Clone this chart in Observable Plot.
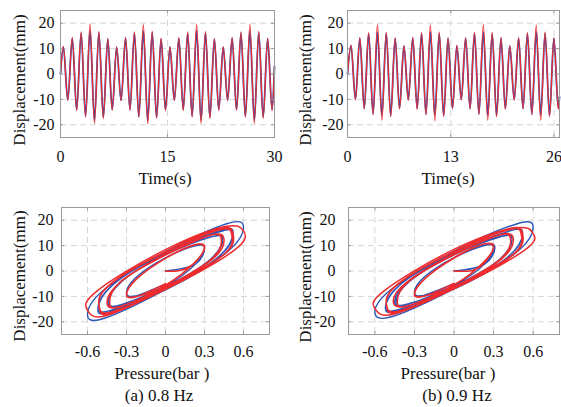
<!DOCTYPE html>
<html><head><meta charset="utf-8">
<script src="https://cdn.jsdelivr.net/npm/d3@7"></script>
<script src="https://cdn.jsdelivr.net/npm/@observablehq/plot@0.6"></script>
<style>
body{margin:0;background:#fff;}
#root{position:relative;width:561px;height:407px;background:#fff;font-family:"Liberation Serif","Times New Roman",serif;overflow:hidden;color:#111}
#root svg, #root svg text{font-family:"Liberation Serif","Times New Roman",serif !important;}
.panel{position:absolute}
.lbl{position:absolute;font-size:17px;white-space:nowrap;transform:translate(-50%,-50%);line-height:1}
.ylbl{position:absolute;font-size:17px;white-space:nowrap;transform:translate(-50%,-50%) rotate(-90deg);line-height:1}
</style></head><body><div id="root"></div>
<script>
// ---------- tick values ----------
const yTicks = [-20, -10, 0, 10, 20];
const timeTicksA = [0, 15, 30];
const timeTicksB = [0, 13, 26];
const pressureTicks = [-0.6, -0.3, 0, 0.3, 0.6];

// ---------- (a) 0.8 Hz time histories: times of extrema (s) and displacement (mm) ----------
const timeA = [0, 0.40, 1.02, 1.65, 2.27, 2.89, 3.51, 4.14, 4.76, 5.38, 6.00, 6.63, 7.25, 7.87, 8.49, 9.12, 9.74,
  10.36, 10.98, 11.61, 12.23, 12.85, 13.47, 14.10, 14.72, 15.34, 15.96, 16.59, 17.21, 17.83, 18.45, 19.08, 19.70,
  20.32, 20.94, 21.57, 22.19, 22.81, 23.43, 24.06, 24.68, 25.30, 25.92, 26.55, 27.17, 27.79, 28.41, 29.04, 29.66, 30];
const blueDispA = [0, 10.7, -10.2, 14.0, -14.1, 16.0, -16.6, 17.2, -18.2, 16.3, -17.0, 13.7, -14.0,
  10.5, -10.4, 14.1, -14.0, 16.1, -16.7, 17.0, -18.3, 16.4, -17.1, 13.8, -14.1,
  10.6, -10.3, 14.0, -14.0, 16.0, -16.6, 17.1, -18.2, 16.3, -17.0, 13.7, -14.0,
  10.6, -10.3, 14.0, -14.1, 16.1, -16.6, 17.0, -18.2, 16.3, -17.0, 13.8, -14.0, 3.0];
const redDispA = [0, 10.9, -10.4, 14.4, -14.4, 16.6, -17.0, 19.6, -19.5, 16.8, -17.6, 14.0, -14.3,
  10.7, -10.5, 14.4, -14.3, 16.6, -17.1, 19.5, -19.6, 16.9, -17.5, 14.1, -14.4,
  10.8, -10.4, 14.3, -14.4, 16.7, -17.0, 19.6, -19.5, 16.8, -17.6, 14.0, -14.3,
  10.7, -10.5, 14.4, -14.3, 16.6, -17.1, 19.5, -19.4, 16.9, -17.5, 14.1, -14.4, 3.2];

// ---------- (b) 0.9 Hz time histories ----------
const timeB = [0, 0.44, 1.00, 1.55, 2.11, 2.66, 3.22, 3.77, 4.33, 4.88, 5.44, 6.00, 6.55, 7.11, 7.66, 8.22, 8.77,
  9.33, 9.88, 10.44, 11.00, 11.55, 12.11, 12.66, 13.22, 13.77, 14.33, 14.88, 15.44, 15.99, 16.55, 17.11, 17.66,
  18.22, 18.77, 19.33, 19.88, 20.44, 21.00, 21.55, 22.11, 22.66, 23.22, 23.77, 24.33, 24.88, 25.44, 25.99, 26.55, 26.7];
const blueDispB = [0, 11.2, -10.0, 14.0, -13.5, 16.0, -15.7, 16.5, -16.3, 16.0, -16.3, 14.0, -13.5,
  11.0, -10.1, 14.1, -13.6, 16.0, -15.8, 16.6, -16.2, 16.0, -16.4, 14.0, -13.5,
  11.1, -10.0, 14.0, -13.5, 16.1, -15.7, 16.5, -16.3, 15.9, -16.3, 14.1, -13.6,
  11.0, -10.1, 14.0, -13.5, 16.0, -15.8, 16.6, -16.2, 16.0, -16.3, 14.0, -13.5, -9.0];
const redDispB = [0, 11.4, -10.2, 14.3, -13.8, 16.3, -16.0, 19.4, -18.3, 16.5, -16.8, 14.2, -13.8,
  11.2, -10.3, 14.4, -13.9, 16.3, -16.1, 19.3, -18.4, 16.6, -16.8, 14.2, -13.8,
  11.3, -10.2, 14.3, -13.8, 16.4, -16.0, 19.4, -18.3, 16.5, -16.9, 14.3, -13.9,
  11.2, -10.3, 14.3, -13.8, 16.3, -16.1, 19.3, -18.3, 16.6, -16.8, 14.2, -13.8, -9.0];

// ---------- (a) hysteresis loops: pressure (bar) vs displacement (mm), 8 readings per cycle ----------
const loopBluePA = [0, 0.23, 0.30, 0.23, 0, -0.23, -0.30, -0.23,
  0, 0.34, 0.44, 0.34, 0, -0.34, -0.44, -0.34,
  0, 0.41, 0.52, 0.41, 0, -0.41, -0.52, -0.41,
  0, 0.47, 0.60, 0.47, 0, -0.47, -0.60, -0.47,
  0, 0.41, 0.52, 0.41, 0, -0.41, -0.52, -0.41,
  0, 0.34, 0.44, 0.34, 0, -0.34, -0.44, -0.34,
  0, 0.23, 0.30, 0.23, 0, -0.23, -0.30, -0.23, 0];
const loopBlueDA = [0, 2.7, 9.0, 10.0, 5.2, -2.7, -8.8, -9.8,
  -6.0, 4.3, 12.5, 13.3, 6.4, -4.3, -12.5, -13.3,
  -6.6, 5.6, 14.8, 15.3, 6.9, -5.6, -14.8, -15.3,
  -7.4, 7.3, 17.2, 18.6, 7.6, -7.3, -17.0, -18.6,
  -7.3, 5.7, 15.2, 15.8, 7.1, -5.7, -15.2, -15.8,
  -6.8, 4.3, 12.5, 13.3, 6.4, -4.3, -12.5, -13.3,
  -5.8, 2.7, 8.9, 9.9, 5.2, -2.7, -8.9, -9.9, -5.2];
const loopRedPA = [0, 0.10, 0.22, 0.30, 0.22, 0, -0.22, -0.30, -0.22,
  0.02, 0.36, 0.45, 0.35, 0, -0.35, -0.45, -0.35,
  0, 0.44, 0.51, 0.42, 0, -0.44, -0.51, -0.42,
  0, 0.53, 0.60, 0.46, 0, -0.53, -0.60, -0.46,
  0, 0.45, 0.52, 0.42, 0, -0.44, -0.51, -0.41,
  0, 0.35, 0.43, 0.34, 0, -0.35, -0.43, -0.34,
  0, 0.22, 0.30, 0.22, 0, -0.22, -0.30, -0.22, 0];
const loopRedDA = [0, 0.1, 3.0, 9.2, 10.2, 5.0, -3.0, -9.4, -10.0,
  -5.6, 4.6, 12.4, 14.2, 6.6, -4.5, -12.6, -14.0,
  -6.4, 6.2, 14.2, 16.2, 7.4, -5.8, -14.0, -16.2,
  -7.2, 8.2, 15.8, 17.5, 8.4, -8.0, -15.5, -17.6,
  -7.0, 6.5, 14.6, 16.7, 7.6, -6.0, -14.5, -16.6,
  -6.4, 4.5, 12.2, 14.0, 6.3, -4.4, -12.4, -14.0,
  -5.6, 3.1, 9.0, 10.3, 5.0, -3.0, -9.2, -10.1, -5.0];

// ---------- (b) hysteresis loops ----------
const loopBluePB = [0, 0.23, 0.31, 0.23, 0, -0.23, -0.30, -0.23,
  0, 0.34, 0.44, 0.34, 0, -0.35, -0.45, -0.35,
  0, 0.41, 0.52, 0.41, 0, -0.41, -0.52, -0.41,
  0, 0.47, 0.60, 0.48, 0, -0.47, -0.60, -0.46,
  0, 0.41, 0.52, 0.41, 0, -0.41, -0.52, -0.41,
  0, 0.34, 0.44, 0.34, 0, -0.34, -0.44, -0.34,
  0, 0.23, 0.30, 0.23, 0, -0.23, -0.30, -0.23, 0];
const loopBlueDB = [0, 2.6, 9.2, 10.3, 5.3, -2.6, -8.6, -9.6,
  -5.8, 4.3, 12.7, 13.5, 6.5, -4.2, -12.2, -13.0,
  -6.4, 5.5, 14.9, 15.5, 7.0, -5.4, -14.4, -15.0,
  -7.1, 7.2, 17.0, 18.6, 7.8, -7.0, -16.3, -17.8,
  -7.0, 5.6, 15.0, 15.6, 7.2, -5.5, -14.7, -15.3,
  -6.5, 4.3, 12.6, 13.3, 6.4, -4.2, -12.2, -13.0,
  -5.6, 2.7, 9.1, 10.0, 5.2, -2.6, -8.7, -9.6, -5.0];
const loopRedPB = [0, 0.13, 0.23, 0.30, 0.22, 0, -0.22, -0.30, -0.22,
  0.03, 0.36, 0.45, 0.35, 0, -0.36, -0.46, -0.35,
  0, 0.44, 0.51, 0.42, 0, -0.44, -0.51, -0.42,
  0, 0.53, 0.60, 0.47, 0, -0.53, -0.60, -0.46,
  0, 0.45, 0.52, 0.42, 0, -0.44, -0.51, -0.41,
  0, 0.35, 0.43, 0.34, 0, -0.35, -0.43, -0.34,
  0, 0.22, 0.30, 0.22, 0, -0.22, -0.30, -0.22, 0];
const loopRedDB = [0, 0.1, 3.2, 9.4, 10.5, 5.2, -3.0, -9.2, -9.8,
  -5.5, 4.7, 12.6, 14.3, 6.7, -4.5, -12.3, -13.7,
  -6.3, 6.2, 14.4, 16.3, 7.5, -5.7, -13.7, -15.8,
  -7.0, 8.0, 14.8, 17.0, 8.5, -7.8, -14.8, -17.0,
  -6.9, 6.4, 14.7, 16.7, 7.7, -5.9, -14.2, -16.1,
  -6.3, 4.6, 12.3, 14.1, 6.4, -4.4, -12.2, -13.6,
  -5.5, 3.2, 9.2, 10.5, 5.1, -3.0, -9.0, -9.9, -4.9];

// ---------- colours ----------
const BLUE = "#2b57b8";
const RED = "#ef2b2d";
const FRAME = "#9a9a9a";
const GRID = "#d6d6d6";
const FONT = "'Liberation Serif','Times New Roman',serif";

const root = document.getElementById("root");

function rows(xs, ys) {
  return xs.map((x, i) => ({x, y: ys[i]}));
}

function panel(o) {
  const fw = o.width - o.ml - o.mr;
  const fh = o.height - o.mt - o.mb;
  const fmt = d => String(d);
  const marks = [
    Plot.gridX(o.xTicks, {stroke: GRID, strokeOpacity: 1, strokeDasharray: "6,4", strokeWidth: 1}),
    Plot.gridY(yTicks, {stroke: GRID, strokeOpacity: 1, strokeDasharray: "6,4", strokeWidth: 1}),
    ...o.lines,
    Plot.tickX(o.xTicks, {x: d => d, insetBottom: fh - 3, stroke: FRAME}),
    Plot.tickX(o.xTicks, {x: d => d, insetTop: fh - 3, stroke: FRAME}),
    Plot.tickY(yTicks, {y: d => d, insetRight: fw - 3, stroke: FRAME}),
    Plot.tickY(yTicks, {y: d => d, insetLeft: fw - 3, stroke: FRAME}),
    Plot.frame({stroke: FRAME, strokeWidth: 1}),
    Plot.axisX(o.xTicks, {tickSize: 0, tickPadding: o.xPad, tickFormat: fmt, label: null, fontSize: 16, fontFamily: FONT, fill: "#111"}),
    Plot.axisY(yTicks, {tickSize: 0, tickPadding: o.yPad, tickFormat: fmt, label: null, fontSize: 16, fontFamily: FONT, fill: "#111"})
  ];
  const svg = Plot.plot({
    width: o.width, height: o.height,
    marginTop: o.mt, marginRight: o.mr, marginBottom: o.mb, marginLeft: o.ml,
    style: {fontFamily: FONT, fontSize: "16px", color: "#111", background: "transparent", overflow: "visible"},
    x: {domain: o.xDomain},
    y: {domain: [-25, 25]},
    marks
  });
  const wrap = document.createElement("div");
  wrap.className = "panel";
  wrap.style.left = o.left + "px";
  wrap.style.top = o.top + "px";
  wrap.appendChild(svg);
  root.appendChild(wrap);
}

function timeLines(t, blue, red) {
  return [
    Plot.line(rows(t, blue), {x: "x", y: "y", curve: "monotone-x", stroke: BLUE, strokeWidth: 1.8}),
    Plot.line(rows(t, red), {x: "x", y: "y", curve: "monotone-x", stroke: RED, strokeWidth: 1.25})
  ];
}
function loopLines(bp, bd, rp, rd) {
  return [
    Plot.line(rows(bp, bd), {x: "x", y: "y", curve: "natural", stroke: BLUE, strokeWidth: 1.4}),
    Plot.line(rows(rp, rd), {x: "x", y: "y", curve: "natural", stroke: RED, strokeWidth: 1.5})
  ];
}

// top-left
panel({left: 0, top: 0, width: 280, height: 170, mt: 10, mb: 33, ml: 60, mr: 6,
  xDomain: [0, 30], xTicks: timeTicksA, xPad: 13, yPad: 6,
  lines: timeLines(timeA, blueDispA, redDispA)});
// top-right
panel({left: 280, top: 0, width: 281, height: 170, mt: 10, mb: 33, ml: 67, mr: 2,
  xDomain: [0, 26.7], xTicks: timeTicksB, xPad: 13, yPad: 4,
  lines: timeLines(timeB, blueDispB, redDispB)});
// bottom-left
panel({left: 0, top: 200, width: 280, height: 165, mt: 7, mb: 31, ml: 61, mr: 11,
  xDomain: [-0.8, 0.8], xTicks: pressureTicks, xPad: 11, yPad: 8,
  lines: loopLines(loopBluePA, loopBlueDA, loopRedPA, loopRedDA)});
// bottom-right
panel({left: 280, top: 200, width: 281, height: 165, mt: 7, mb: 31, ml: 68, mr: 2,
  xDomain: [-0.8, 0.8], xTicks: pressureTicks, xPad: 11, yPad: 13,
  lines: loopLines(loopBluePB, loopBlueDB, loopRedPB, loopRedDB)});

// axis titles and captions
function label(text, x, y, cls) {
  const d = document.createElement("div");
  d.className = cls || "lbl";
  d.textContent = text;
  d.style.left = x + "px";
  d.style.top = y + "px";
  root.appendChild(d);
}
label("Displacement(mm)", 19, 80, "ylbl");
label("Displacement(mm)", 305, 80, "ylbl");
label("Displacement(mm)", 19, 276, "ylbl");
label("Displacement(mm)", 305, 277, "ylbl");
label("Time(s)", 165, 178);
label("Time(s)", 448, 178);
label("Pressure(bar )", 162, 373);
label("Pressure(bar )", 448, 373);
label("(a) 0.8 Hz", 159, 395);
label("(b) 0.9 Hz", 457, 395);
</script>
</body></html>
